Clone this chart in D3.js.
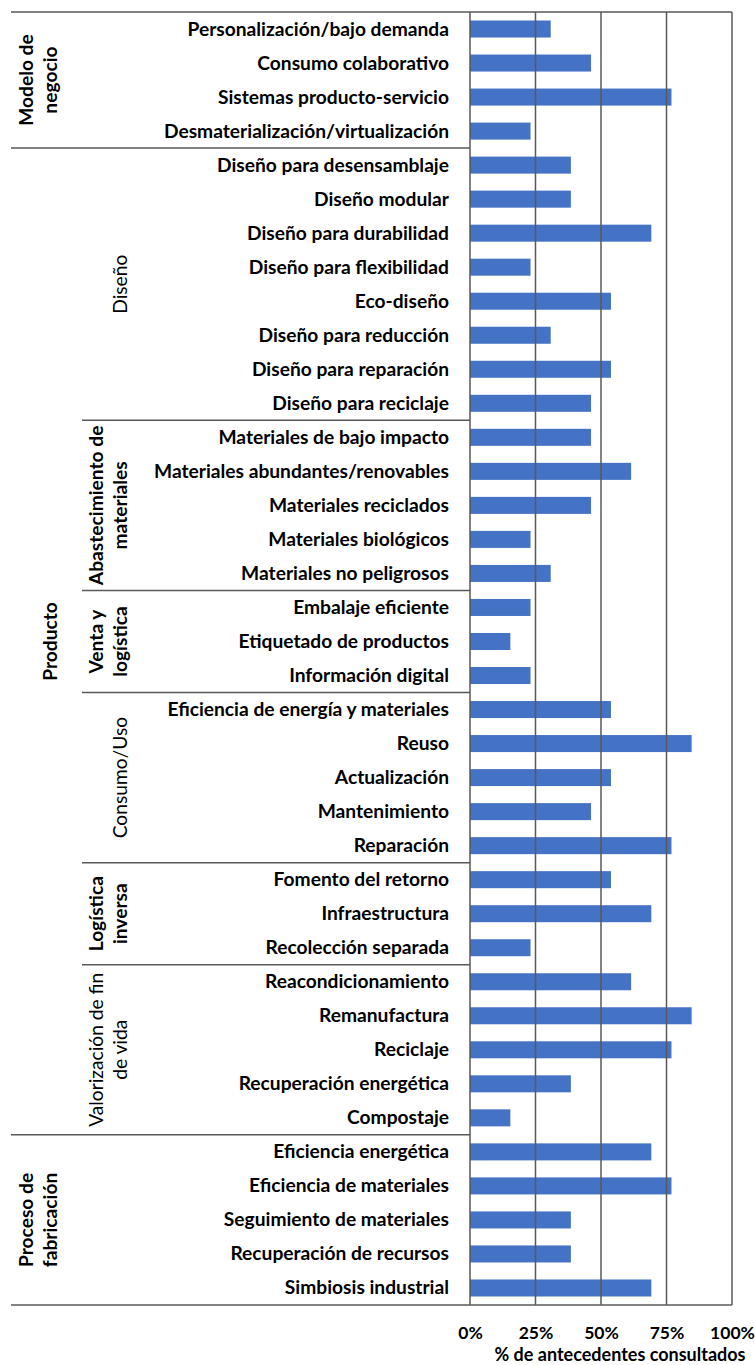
<!DOCTYPE html>
<html><head><meta charset="utf-8">
<script src="https://cdn.jsdelivr.net/npm/d3@7"></script>
<style>
html,body{margin:0;padding:0;background:#fff;}
svg{display:block;}
text{font-family:Lato,"Noto Sans",sans-serif;fill:#000;}
</style></head>
<body>
<svg id="chart" width="755" height="1365"></svg>
<script>
const categories = [
 "Personalización/bajo demanda","Consumo colaborativo","Sistemas producto-servicio","Desmaterialización/virtualización",
 "Diseño para desensamblaje","Diseño modular","Diseño para durabilidad","Diseño para flexibilidad","Eco-diseño",
 "Diseño para reducción","Diseño para reparación","Diseño para reciclaje",
 "Materiales de bajo impacto","Materiales abundantes/renovables","Materiales reciclados","Materiales biológicos","Materiales no peligrosos",
 "Embalaje eficiente","Etiquetado de productos","Información digital",
 "Eficiencia de energía y materiales","Reuso","Actualización","Mantenimiento","Reparación",
 "Fomento del retorno","Infraestructura","Recolección separada",
 "Reacondicionamiento","Remanufactura","Reciclaje","Recuperación energética","Compostaje",
 "Eficiencia energética","Eficiencia de materiales","Seguimiento de materiales","Recuperación de recursos","Simbiosis industrial"
];
const values = [
 30.8,46.2,76.9,23.1,
 38.5,38.5,69.2,23.1,53.8,30.8,53.8,46.2,
 46.2,61.5,46.2,23.1,30.8,
 23.1,15.4,23.1,
 53.8,84.6,53.8,46.2,76.9,
 53.8,69.2,23.1,
 61.5,84.6,76.9,38.5,15.4,
 69.2,76.9,38.5,38.5,69.2
];
const level1Labels = [["Modelo de","negocio"],["Producto"],["Proceso de","fabricación"]];
const level1Spans = [[0,4],[4,33],[33,38]];
const level2Labels = [["Diseño"],["Abastecimiento de","materiales"],["Venta y","logística"],["Consumo/Uso"],["Logística","inversa"],["Valorización de fin","de vida"]];
const level2Spans = [[4,12],[12,17],[17,20],[20,25],[25,28],[28,33]];
const xTicks = [0,25,50,75,100];
const xTitle = "% de antecedentes consultados";

(function(){
const svg = d3.select("#chart");
const pTop = 12, pBottom = 1305, pLeft = 470, pRight = 732, frameLeft = 11;
const lineColor = "#595959";
const fs = 19.2;

const y = d3.scaleBand().domain(d3.range(categories.length)).range([pTop,pBottom]).paddingInner(0.5).paddingOuter(0.25);
const x = d3.scaleLinear().domain([0,100]).range([pLeft,pRight]);
const step = y.step();
const rowTop = i => i >= categories.length ? pBottom : y(i) - step*0.25;

// bars
svg.append("g").selectAll("rect").data(values).join("rect")
  .attr("x", x(0)).attr("y",(d,i)=>y(i))
  .attr("width", d=>x(d)-x(0)).attr("height", y.bandwidth())
  .attr("fill","#4472C4");

// gridlines
svg.append("g").selectAll("line").data(xTicks).join("line")
  .attr("x1",d=>x(d)).attr("x2",d=>x(d)).attr("y1",pTop).attr("y2",pBottom)
  .attr("stroke",lineColor).attr("stroke-width",1.5);

// frame / separator lines
const hl = (yy,x1,x2) => svg.append("line").attr("x1",x1).attr("x2",x2)
  .attr("y1",yy).attr("y2",yy).attr("stroke",lineColor).attr("stroke-width",1.5);
hl(pTop,frameLeft,pRight); hl(pBottom,frameLeft,pRight);
level1Spans.slice(1).forEach(s=>hl(rowTop(s[0]),frameLeft,pLeft));
level2Spans.slice(1).forEach(s=>hl(rowTop(s[0]),82,pLeft));

// category labels
svg.append("g").selectAll("text").data(categories).join("text")
  .attr("x",449).attr("y",(d,i)=>y(i)+y.bandwidth()/2+6.5)
  .attr("text-anchor","end").attr("font-weight","bold").attr("font-size",fs)
  .text(d=>d);

// group labels
function groupLabels(labels, spans, xBase, lh, lightSet){
  labels.forEach((lines,k)=>{
    const s = spans[k];
    const yc = (rowTop(s[0]) + rowTop(s[1]))/2;
    const n = lines.length;
    lines.forEach((t,i)=>{
      svg.append("text")
        .attr("transform",`translate(${xBase-(n-1-i)*lh},${yc}) rotate(-90)`)
        .attr("text-anchor","middle")
        .attr("font-size",fs)
        .attr("font-weight", lightSet.has(k)?"normal":"bold")
        .text(t);
    });
  });
}
groupLabels(level1Labels, level1Spans, 57, 24, new Set());
groupLabels(level2Labels, level2Spans, 127, 24, new Set([0,3,5]));

// x axis
const axis = d3.axisBottom(x).tickValues(xTicks).tickFormat(d=>d+"%").tickSize(0).tickPadding(0);
const ag = svg.append("g").attr("transform",`translate(0,${pBottom})`).call(axis);
ag.select(".domain").remove();
ag.selectAll("text").attr("y",34).attr("dy",0).attr("font-size",17.5).attr("font-weight","bold")
  .style("font-family","Lato").attr("fill","#000");

svg.append("text").attr("x",620).attr("y",1360.5).attr("text-anchor","middle")
  .attr("font-size",18).attr("font-weight","bold").text(xTitle);
})();
</script>
</body></html>
